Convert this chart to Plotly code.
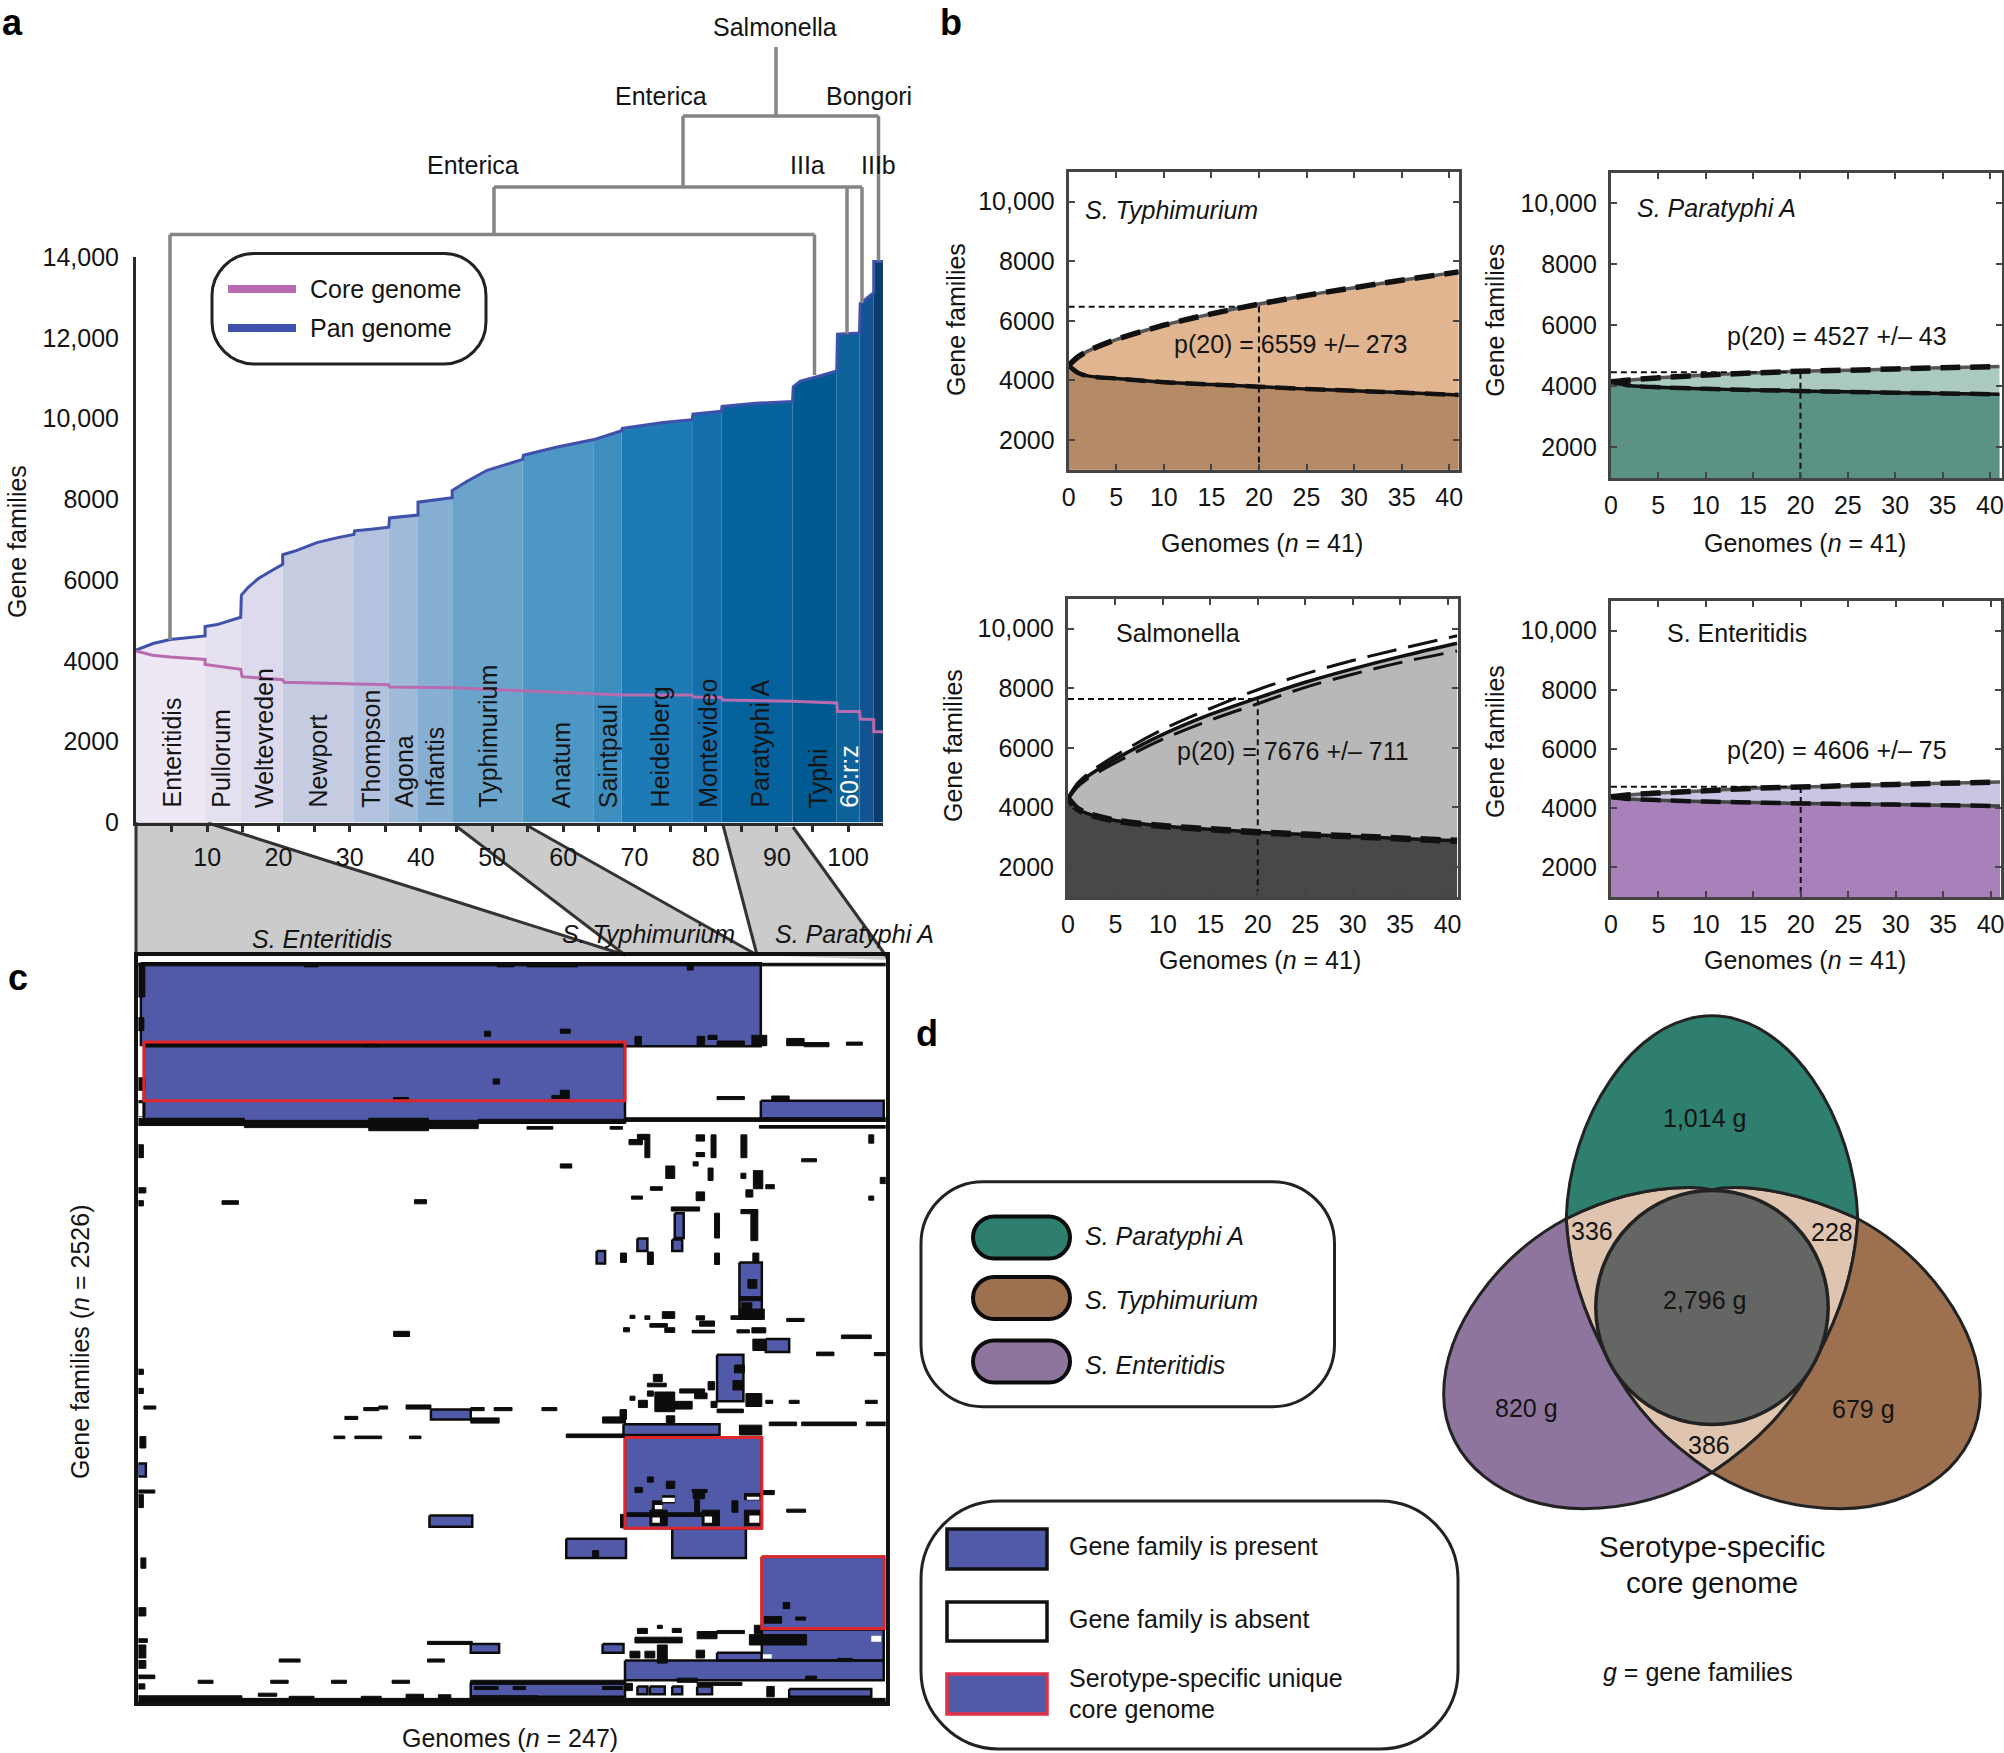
import plotly.graph_objects as go

W, H = 2004, 1753
FONT = "Liberation Sans"
INK = "#141414"

# ---------- panel a data ----------
pan_x = [0, 2.4, 4.8, 9.7, 9.7, 11.4, 14.7, 14.8, 15.8, 17.2, 18.9, 20.6, 20.6, 22.5, 25.4, 28, 30.6, 30.7, 33, 35.5, 35.6, 39.6, 39.6, 44.4, 44.4, 46.5, 49.3, 51.8, 54.3, 54.4, 59, 64.3, 66.3, 68.2, 68.3, 74, 78.1, 78.2, 82.2, 82.3, 87, 92.2, 92.3, 93.3, 95.5, 98.4, 98.5, 101.6, 101.7, 103.6, 103.6, 105]
pan_y = [4270, 4430, 4530, 4620, 4850, 4900, 5080, 5630, 5830, 6040, 6220, 6390, 6630, 6730, 6930, 7040, 7130, 7220, 7260, 7310, 7540, 7610, 7930, 8040, 8220, 8450, 8720, 8860, 8990, 9090, 9290, 9480, 9590, 9700, 9760, 9900, 9970, 10110, 10180, 10300, 10380, 10420, 10790, 10930, 11030, 11180, 12090, 12120, 12850, 13120, 13890, 13890]
core_x = [0, 2.3, 4.8, 9.7, 9.7, 14.7, 14.9, 20.6, 20.8, 30.6, 35.5, 35.6, 44.4, 54.3, 64.3, 68.2, 78.1, 78.3, 82.2, 82.4, 92.2, 98.4, 98.5, 101.6, 101.7, 103.6, 103.6, 105]
core_y = [4247, 4141, 4095, 4035, 3913, 3792, 3610, 3534, 3473, 3428, 3413, 3352, 3337, 3261, 3185, 3155, 3155, 3109, 3094, 3033, 3003, 2958, 2745, 2745, 2563, 2548, 2245, 2245]
sero_edges = [0, 9.7, 14.7, 20.6, 30.6, 35.5, 39.6, 44.4, 54.3, 64.3, 68.2, 78.1, 82.2, 92.2, 98.4, 101.6, 103.6, 105]
sero_colors = ["#EEE8F4", "#E5E1F0", "#DCDAEC", "#C5CBE1", "#B2C2DF", "#A0BBD9", "#87AFD3", "#6BA4CB", "#4D97C4", "#3D8DBF", "#1D7AB5", "#146EAB", "#06629C", "#005A92", "#0D6299", "#13538F", "#0B3C6B"]
sero_names = ["Enteritidis", "Pullorum", "Weltevreden", "Newport", "Thompson", "Agona", "Infantis", "Typhimurium", "Anatum", "Saintpaul", "Heidelberg", "Montevideo", "Paratyphi A", "Typhi", "60:r:z"]
sero_label_x = [5, 12, 18, 25.6, 33, 37.6, 42, 49.5, 59.6, 66.2, 73.6, 80.4, 87.6, 95.7, 100.2]

# ---------- panel b data ----------
curve_x = [0, 1, 2, 5, 10, 15, 20, 25, 30, 35, 41]
typh_pan = [4500, 4790, 4980, 5370, 5850, 6230, 6559, 6850, 7110, 7360, 7640]
typh_core = [4500, 4250, 4150, 4060, 3940, 3860, 3790, 3710, 3650, 3590, 3510]
para_pan = [4150, 4180, 4210, 4280, 4370, 4440, 4495, 4530, 4570, 4610, 4650]
para_core = [4150, 4090, 4030, 3970, 3920, 3880, 3850, 3820, 3790, 3770, 3740]
salm_pan = [4300, 4750, 5030, 5620, 6450, 7120, 7676, 8200, 8650, 9060, 9510]
salm_upper = [4330, 4810, 5110, 5740, 6620, 7320, 7950, 8480, 8930, 9320, 9760]
salm_lower = [4270, 4690, 4950, 5500, 6290, 6930, 7480, 8030, 8470, 8860, 9250]
salm_core = [4300, 3950, 3800, 3560, 3380, 3270, 3170, 3090, 3030, 2960, 2880]
ente_pan = [4380, 4420, 4450, 4510, 4590, 4670, 4710, 4760, 4800, 4840, 4880]
ente_core = [4380, 4340, 4310, 4270, 4220, 4190, 4160, 4140, 4120, 4100, 4070]

# ---------- panel c data: (genome start, end, family start, end) read on the picture's grid ----------
blue_blocks = [(42,1288,45,205),(48,1015,200,352),(1288,1535,310,345),(1115,1133,527,575),(1110,1130,578,600),(1040,1060,576,600),
 (958,975,600,624),(1245,1290,622,730),(1298,1345,770,795),(1200,1253,800,890),(625,705,906,925),(1012,1205,934,955),(35,52,1010,1035),
 (1015,1290,960,1135),(622,708,1110,1132),(897,1017,1155,1192),(1110,1258,1135,1192),(1290,1536,1190,1328),(1290,1535,1330,1390),
 (705,762,1358,1375),(970,1012,1358,1375),(1200,1290,1375,1390),(1015,1535,1390,1428),(705,1015,1432,1460),(1040,1060,1440,1455),
 (1065,1095,1440,1455),(1110,1130,1440,1455),(1160,1190,1440,1455),(1345,1510,1445,1460)]
white_marks = [(1090,1115,1076,1084),(1075,1090,1090,1098),(1260,1285,1074,1080),(1265,1285,1110,1124),(1175,1190,1112,1124),
 (1070,1085,1114,1124),(1510,1530,1342,1354),(1292,1310,1378,1386),(35,48,205,265),(35,45,315,340)]
black_marks = [(33,50,45,110),(33,48,150,175),(33,50,265,290),(33,50,310,340),(370,398,44,52),(758,792,44,52),(818,920,44,52),(1140,1152,46,58),
 (733,745,176,186),(885,905,172,180),(1035,1048,186,202),(1160,1175,186,204),(1182,1200,184,192),(1200,1255,195,204),(1270,1300,184,204),
 (1340,1375,190,204),(1375,1425,198,206),(1460,1492,197,203),(490,520,201,206),(750,763,268,278),(885,903,290,306),(868,885,300,306),
 (550,580,304,310),(1200,1255,302,308),(1310,1345,301,309),
 (25,250,344,358),(250,500,348,362),(500,620,344,368),(620,720,348,364),(720,1015,346,354),(818,870,360,365),(985,1010,360,365),(1015,1540,343,350),(1285,1545,358,363),
 (33,47,395,420),(28,52,478,488),(33,47,503,513),(33,47,828,838),(33,47,865,875),(40,52,958,980),(33,70,1061,1067),(33,47,1070,1095),(42,52,1192,1212),(33,52,1288,1304),(28,55,1348,1355),(35,52,1360,1385),(35,52,1390,1405),(25,70,1418,1425),(33,50,1435,1445),
 (1023,1050,385,395),(1055,1065,375,420),(1040,1055,375,385),(1158,1175,376,388),(1158,1175,410,418),(1188,1198,376,420),(1248,1260,376,420),(1505,1515,376,392),(1370,1400,422,428),(885,908,432,440),(1097,1115,436,460),(1182,1192,440,464),(1152,1162,428,436),(1248,1258,450,460),(1273,1292,445,480),(1298,1315,472,480),(1258,1272,482,496),(1066,1090,476,483),(1028,1050,494,500),(1158,1175,486,503),(1528,1540,458,470),(1505,1515,494,502),(205,238,503,510),(592,616,501,509),
 (1108,1165,515,523),(1248,1282,520,528),(1195,1205,527,575),(1268,1282,528,580),(1006,1018,604,622),(1060,1072,602,626),(1195,1205,604,626),(1272,1284,604,622),
 (1262,1280,655,672),(1245,1290,688,696),(1250,1270,700,712),(1245,1295,712,725),
 (550,582,755,765),(1090,1115,717,730),(1158,1175,725,733),(1165,1195,735,745),(1025,1035,724,730),(1055,1065,725,732),(1065,1100,740,747),(1095,1115,748,757),(1012,1024,748,756),(1150,1195,753,758),(1240,1265,752,758),(1270,1298,748,758),(1340,1375,730,736),(1228,1295,725,732),(1450,1510,762,769),(1272,1298,770,792),(1400,1435,795,802),(1516,1540,796,802),
 (1235,1255,820,835),(1232,1252,850,868),(1072,1090,838,852),(1060,1098,855,862),(1125,1175,866,874),(1155,1180,874,885),(1182,1195,852,868),(1025,1035,880,888),(1042,1060,888,902),(1060,1072,870,880),(1075,1115,872,910),(1115,1150,890,905),(1188,1200,890,902),(1258,1290,875,900),(1298,1312,888,894),(1345,1365,888,894),(1498,1522,888,894),(1200,1253,905,912),
 (48,72,899,905),(490,520,902,908),(520,538,899,905),(575,625,897,905),(705,732,902,908),(752,788,902,908),(848,878,902,908),(452,478,919,925),(705,762,922,932),(970,1016,920,932),(1005,1018,906,925),(1098,1115,918,932),
 (1245,1290,936,955),(1305,1360,930,937),(1370,1480,930,937),(1500,1550,930,937),(430,452,957,962),(472,526,957,962),(582,605,957,962),(897,1015,953,960),
 (1060,1072,1036,1046),(1035,1050,1056,1066),(1098,1115,1044,1058),(1150,1180,1060,1066),(1152,1175,1068,1078),(1155,1165,1080,1105),(1090,1115,1072,1086),(1070,1090,1082,1100),(1230,1242,1082,1104),(1255,1290,1068,1080),(1255,1290,1100,1130),(1018,1200,1105,1112),(1065,1100,1100,1130),(1170,1205,1100,1130),(1290,1315,1062,1070),(1340,1378,1098,1104),(1006,1015,1108,1134),
 (950,962,1178,1190),(1333,1346,1278,1290),(1358,1378,1306,1312),(1295,1330,1305,1318),
 (1040,1060,1328,1338),(1080,1090,1322,1328),(1110,1128,1328,1336),(1160,1200,1334,1348),(1200,1255,1332,1338),(1275,1290,1322,1338),(1035,1130,1345,1356),(1265,1380,1340,1360),(1442,1472,1386,1392),(1025,1045,1372,1385),(1055,1075,1372,1385),(1080,1100,1360,1395),(1158,1175,1370,1385),(618,708,1353,1359),(320,362,1387,1393),(618,652,1387,1393),(157,187,1428,1434),(303,338,1428,1434),(425,455,1428,1434),(547,582,1428,1434),
 (1120,1160,1424,1432),(1378,1400,1420,1426),(705,1015,1428,1436),(712,760,1440,1446),(790,815,1440,1446),(970,1010,1440,1446),(1015,1030,1434,1448),(1160,1250,1432,1438),(1300,1315,1440,1460),
 (33,245,1458,1470),(278,315,1453,1459),(245,1545,1463,1470),(340,390,1459,1465),(485,525,1459,1465),(575,610,1455,1465),(640,665,1456,1465),(705,840,1458,1465)]
red_frames = [(48,1015,197,310),(1015,1290,960,1135),(1290,1536,1190,1328)]

# ---------- panel d data ----------
venn_labels = ["1,014 g", "2,796 g", "820 g", "679 g", "336", "228", "386"]


def P(x, y):
    return x / W, 1 - y / H


fig = go.Figure()
shapes, notes = [], []


def note(x, y, text, size=25, xa="center", ya="middle", angle=0, color=INK):
    px, py = P(x, y)
    notes.append(dict(x=px, y=py, xref="paper", yref="paper", text=text, showarrow=False, xanchor=xa, yanchor=ya,
                      textangle=angle, font=dict(family=FONT, size=size, color=color), borderpad=0, borderwidth=0))


def path(cmds, fill, line, lw, layer="below"):
    shapes.append(dict(type="path", xref="paper", yref="paper", path=cmds, fillcolor=fill,
                       line=dict(color=line, width=lw), layer=layer))


def poly(points, fill, line=None, lw=0):
    s = "M" + " L".join("%.5f,%.5f" % P(*p) for p in points) + " Z"
    path(s, fill, line or "rgba(0,0,0,0)", lw)


def seg(x0, y0, x1, y1, color, lw, layer="below"):
    a, b = P(x0, y0), P(x1, y1)
    shapes.append(dict(type="line", xref="paper", yref="paper", x0=a[0], y0=a[1], x1=b[0], y1=b[1],
                       line=dict(color=color, width=lw), layer=layer))


def curve(items):
    out = []
    for it in items:
        c, vals = it[0], it[1:]
        coords = []
        for i in range(0, len(vals), 2):
            coords.append("%.5f,%.5f" % P(vals[i], vals[i + 1]))
        out.append(c + " ".join(coords))
    return " ".join(out) + " Z"


def rbox(x0, y0, x1, y1, r, fill, line, lw):
    k = 0.45 * r
    pts = [("M", x0 + r, y0), ("L", x1 - r, y0), ("C", x1 - k, y0, x1, y0 + k, x1, y0 + r), ("L", x1, y1 - r),
           ("C", x1, y1 - k, x1 - k, y1, x1 - r, y1), ("L", x0 + r, y1), ("C", x0 + k, y1, x0, y1 - k, x0, y1 - r),
           ("L", x0, y0 + r), ("C", x0, y0 + k, x0 + k, y0, x0 + r, y0)]
    path(curve(pts), fill, line, lw)


def axes(n, box, xr, yr, xopt, yopt):
    x0, y0, x1, y1 = box
    s = "" if n == 1 else str(n)
    fig.layout["xaxis" + s] = dict(domain=[x0 / W, x1 / W], range=xr, anchor="y" + s, fixedrange=True, showgrid=False, zeroline=False, **xopt)
    fig.layout["yaxis" + s] = dict(domain=[1 - y1 / H, 1 - y0 / H], range=yr, anchor="x" + s, fixedrange=True, showgrid=False, zeroline=False, **yopt)


def refs(n):
    s = "" if n == 1 else str(n)
    return dict(xaxis="x" + s, yaxis="y" + s)


tickfont = dict(family=FONT, size=25, color=INK)

# ================= panel a =================
axes(1, (136, 257, 883, 822.5), [0, 104.9], [0, 14000],
     dict(showline=True, linecolor="#2a2a2a", linewidth=3, ticks="outside", ticklen=6, tickwidth=3, tickcolor="#2a2a2a",
          tickvals=list(range(5, 105, 5)), ticktext=[str(v) if v % 10 == 0 else "" for v in range(5, 105, 5)],
          tickfont=tickfont, ticklabelstandoff=4),
     dict(showline=True, linecolor="#2a2a2a", linewidth=3, ticks="", tickvals=[0, 2000, 4000, 6000, 8000, 10000, 12000, 14000],
          ticktext=["0", "2000", "4000", "6000", "8000", "10,000", "12,000", "14,000"], tickfont=tickfont, ticklabelstandoff=9))


def pan_at(x):
    for i in range(len(pan_x) - 1):
        if pan_x[i] <= x <= pan_x[i + 1] and pan_x[i + 1] > pan_x[i]:
            f = (x - pan_x[i]) / (pan_x[i + 1] - pan_x[i])
            return pan_y[i] + f * (pan_y[i + 1] - pan_y[i])
    return pan_y[-1]


for i, col in enumerate(sero_colors):
    a, b = sero_edges[i], sero_edges[i + 1]
    xs = [a] + [x for x in pan_x if a < x < b] + [b]
    ys = [pan_at(a + 1e-6)] + [y for x, y in zip(pan_x, pan_y) if a < x < b] + [pan_at(b - 1e-6)]
    fig.add_trace(go.Scatter(x=xs, y=ys, mode="none", fill="tozeroy", fillcolor=col, hoverinfo="skip", showlegend=False, **refs(1)))
fig.add_trace(go.Scatter(x=pan_x, y=pan_y, mode="lines", line=dict(color="#3F51AB", width=3), showlegend=False, cliponaxis=False, **refs(1)))
fig.add_trace(go.Scatter(x=core_x, y=core_y, mode="lines", line=dict(color="#B96BB0", width=3), showlegend=False, cliponaxis=False, **refs(1)))

for name, x in zip(sero_names, sero_label_x):
    notes.append(dict(x=x, y=340, xref="x", yref="y", text=name, showarrow=False, textangle=-90, xanchor="center", yanchor="bottom",
                      font=dict(family=FONT, size=25, color="white" if name == "60:r:z" else INK), borderpad=0))
note(17, 542, "Gene families", angle=-90)

# dendrogram
GR = "#858585"
for s in [(776, 47, 776, 116), (683, 116, 878.5, 116), (683, 116, 683, 187), (878.5, 116, 878.5, 261), (494, 187, 862, 187),
          (847, 187, 847, 334), (862, 187, 862, 303), (494, 187, 494, 234.5), (170, 234.5, 814.5, 234.5), (170, 234.5, 170, 640),
          (814.5, 234.5, 814.5, 375)]:
    seg(*s, GR, 3.5, layer="above")
note(775, 27, "Salmonella")
note(661, 96, "Enterica")
note(869, 96, "Bongori")
note(473, 165, "Enterica")
note(807, 165, "IIIa")
note(878.5, 165, "IIIb")

# legend a
rbox(212, 253.5, 486, 364, 42, "white", "#222222", 3)
seg(228, 289, 296, 289, "#B96BB0", 8, layer="above")
seg(228, 328, 296, 328, "#3F51AB", 8, layer="above")
note(310, 289, "Core genome", 25, "left")
note(310, 328, "Pan genome", 25, "left")

# connectors between a and c
GP = "#CBCBCB"
DK = "#333333"
poly([(136, 822), (208, 822), (625, 955), (136, 955)], GP)
poly([(456, 825), (528, 825), (757, 955), (625, 955)], GP)
poly([(723, 825), (793, 827), (889, 960), (757, 955)], GP)
for s in [(208, 823, 625, 955), (456, 826, 625, 955), (528, 826, 757, 955), (723, 825, 757, 955), (793, 827, 889, 960), (136, 822, 136, 960)]:
    seg(*s, DK, 3)
note(321.6, 939, "<i>S. Enteritidis</i>")
note(648.5, 934, "<i>S. Typhimurium</i>")
note(854, 934, "<i>S. Paratyphi A</i>")

# ================= panel c =================
axes(2, (138.4, 955.5, 885.7, 1702), [37, 1539], [1470, 30],
     dict(showline=True, linecolor="#111111", linewidth=4, mirror=True, ticks="", showticklabels=False),
     dict(showline=True, linecolor="#111111", linewidth=4, mirror=True, ticks="", showticklabels=False))


def rect_xy(blocks):
    xs, ys = [], []
    for a, b, c, d in blocks:
        xs += [a, b, b, a, a, None]
        ys += [c, c, d, d, c, None]
    return xs, ys


xs, ys = rect_xy(blue_blocks)
fig.add_trace(go.Scatter(x=xs, y=ys, mode="lines", fill="toself", fillcolor="#505AA8", line=dict(color="#0c0c0c", width=2.5), showlegend=False, hoverinfo="skip", **refs(2)))
xs, ys = rect_xy(black_marks)
fig.add_trace(go.Scatter(x=xs, y=ys, mode="lines", fill="toself", fillcolor="#0c0c0c", line=dict(color="#0c0c0c", width=1), showlegend=False, hoverinfo="skip", cliponaxis=False, **refs(2)))
xs, ys = rect_xy(white_marks)
fig.add_trace(go.Scatter(x=xs, y=ys, mode="lines", fill="toself", fillcolor="white", line=dict(color="white", width=0), showlegend=False, hoverinfo="skip", **refs(2)))
xs, ys = rect_xy([(33, 1543, 45, 50)])
fig.add_trace(go.Scatter(x=xs, y=ys, mode="lines", fill="toself", fillcolor="#0c0c0c", line=dict(color="#0c0c0c", width=1), showlegend=False, hoverinfo="skip", **refs(2)))
xs, ys = rect_xy(red_frames)
fig.add_trace(go.Scatter(x=xs, y=ys, mode="lines", line=dict(color="#E0262A", width=3), showlegend=False, hoverinfo="skip", **refs(2)))
note(80, 1342, "Gene families (<i>n</i> = 2526)", angle=-90)
note(510, 1738, "Genomes (<i>n</i> = 247)")

# ================= panel b =================
panels = [
    (3, (1068.7, 171.7, 1458.7, 469.8), 41, typh_pan, typh_core, "#E1B58F", "#B58B67", "#555555", 6470, "p(20) = 6559 +/\u2013 273", 23.4, 5220, "<i>S. Typhimurium</i>", 1.6, 9730),
    (4, (1610.9, 172.8, 2002.3, 477.9), 41.3, para_pan, para_core, "#A9C9C1", "#5B9285", "#555555", 4460, "p(20) = 4527 +/\u2013 43", 23.9, 5636, "<i>S. Paratyphi A</i>", 2.6, 9840),
    (5, (1068, 598.8, 1458, 896.9), 41.1, salm_pan, salm_core, "#B8B8B8", "#484848", "#111111", 7640, "p(20) = 7676 +/\u2013 711", 23.7, 5900, "Salmonella", 5, 9840),
    (6, (1610.9, 601, 2001, 896.9), 41.1, ente_pan, ente_core, "#C9C6E4", "#A880BA", "#555555", 4720, "p(20) = 4606 +/\u2013 75", 23.8, 5950, "S. Enteritidis", 5.8, 9920),
]
for n, box, xmax, pan, core, band, base, ln, hline, ptext, px_, py_, title, tx, ty in panels:
    frame = dict(showline=True, linecolor="#444444", linewidth=3, mirror="ticks", ticks="inside", ticklen=6, tickwidth=2, tickcolor="#444444",
                 tickfont=tickfont, ticklabeloverflow="allow")
    axes(n, box, [0, xmax], [1000, 11000],
         dict(tickvals=[0, 5, 10, 15, 20, 25, 30, 35, 40], ticklabelstandoff=3, **frame),
         dict(tickvals=[2000, 4000, 6000, 8000, 10000], ticktext=["2000", "4000", "6000", "8000", "10,000"], ticklabelstandoff=6, **frame))
    r = refs(n)
    fig.add_trace(go.Scatter(x=curve_x, y=pan, mode="none", fill="tozeroy", fillcolor=band, hoverinfo="skip", showlegend=False, **r))
    fig.add_trace(go.Scatter(x=curve_x, y=core, mode="none", fill="tozeroy", fillcolor=base, hoverinfo="skip", showlegend=False, **r))
    fig.add_trace(go.Scatter(x=curve_x, y=pan, mode="lines", line=dict(color=ln, width=3.5, shape="spline"), showlegend=False, **r))
    fig.add_trace(go.Scatter(x=curve_x, y=core, mode="lines", line=dict(color="#111111" if n != 6 else "#444444", width=3.5, shape="spline"), showlegend=False, **r))
    if n == 5:
        for extra in (salm_upper, salm_lower):
            fig.add_trace(go.Scatter(x=curve_x, y=extra, mode="lines", line=dict(color="#111111", width=3, dash="30px,12px", shape="spline"), showlegend=False, **r))
    else:
        fig.add_trace(go.Scatter(x=curve_x, y=pan, mode="lines", line=dict(color="#111111", width=5.5, dash="20px,10px", shape="spline"), showlegend=False, **r))
    fig.add_trace(go.Scatter(x=curve_x, y=core, mode="lines", line=dict(color="#111111", width=6.5 if n == 5 else 4.5, dash="20px,10px", shape="spline"), showlegend=False, **r))
    fig.add_trace(go.Scatter(x=[0, 20, 20], y=[hline, hline, 1000], mode="lines", line=dict(color="#111111", width=2, dash="6px,4px"), showlegend=False, **r))
    for txt, xv, yv, anchor in ((ptext, px_, py_, "center"), (title, tx, ty, "left")):
        notes.append(dict(x=xv, y=yv, xref=r["xaxis"], yref=r["yaxis"], text=txt, showarrow=False, xanchor=anchor, yanchor="middle",
                          font=dict(family=FONT, size=25, color=INK), borderpad=0))

for x, y in [(956, 320), (1495, 320.7), (953, 746), (1495, 742)]:
    note(x, y, "Gene families", angle=-90)
for x, y in [(1261.6, 543.5), (1804.5, 543.5), (1259.6, 960), (1804.5, 960)]:
    note(x, y, "Genomes (<i>n</i> = 41)")

# ================= panel d =================
rbox(921, 1181.7, 1334.5, 1406.7, 62, "white", "#222222", 3)
for y, col, name, ty in [(1237.5, "#2F7F6F", "S. Paratyphi A", 1235.6), (1298, "#9D7050", "S. Typhimurium", 1300), (1361.5, "#8E759D", "S. Enteritidis", 1365)]:
    rbox(973, y - 21, 1070, y + 21, 21, col, "#0c0c0c", 4)
    note(1084.5, ty, "<i>%s</i>" % name, 25, "left")

rbox(921, 1501, 1458, 1749, 78, "white", "#222222", 3)
for y0, y1, fill, line in [(1529, 1569, "#505AA8", "#111111"), (1602, 1641, "white", "#111111"), (1674, 1714, "#505AA8", "#E0304A")]:
    poly([(947, y0), (1047, y0), (1047, y1), (947, y1)], fill, line, 3.5)
note(1069, 1546, "Gene family is present", 25, "left")
note(1069, 1619, "Gene family is absent", 25, "left")
note(1069, 1678, "Serotype-specific unique", 25, "left")
note(1069, 1709, "core genome", 25, "left")


def Z(x, y):
    return x / 1.42 + 900, y / 2.08 + 1000


def vpath(items, fill):
    conv = []
    for it in items:
        vals = []
        for i in range(1, len(it), 2):
            vals += list(Z(it[i], it[i + 1]))
        conv.append((it[0], *vals))
    path(curve(conv), fill, "#222222", 3, layer="above")


purple = [("M", 946, 455), ("C", 850, 530, 772, 680, 772, 820), ("C", 772, 960, 860, 1058, 970, 1058), ("C", 1040, 1058, 1100, 1030, 1153, 983),
          ("C", 1090, 920, 1040, 850, 1005, 745), ("C", 970, 650, 950, 560, 946, 455)]
brown = [("M", 1360, 455), ("C", 1456, 530, 1534, 680, 1534, 820), ("C", 1534, 960, 1446, 1058, 1336, 1058), ("C", 1266, 1058, 1206, 1030, 1153, 983),
         ("C", 1216, 920, 1266, 850, 1301, 745), ("C", 1336, 650, 1356, 560, 1360, 455)]
green = [("M", 946, 455), ("C", 950, 250, 1040, 33, 1153, 33), ("C", 1265, 33, 1356, 250, 1360, 455), ("C", 1300, 415, 1240, 390, 1185, 390),
         ("C", 1170, 390, 1160, 392, 1153, 395), ("C", 1145, 392, 1135, 390, 1120, 390), ("C", 1060, 390, 1000, 415, 946, 455)]
beige = [("M", 946, 455), ("C", 1000, 415, 1060, 390, 1120, 390), ("C", 1135, 390, 1145, 392, 1153, 395), ("C", 1160, 392, 1170, 390, 1185, 390),
         ("C", 1240, 390, 1300, 415, 1360, 455), ("C", 1356, 560, 1336, 650, 1301, 745), ("C", 1266, 850, 1216, 920, 1153, 983),
         ("C", 1090, 920, 1040, 850, 1005, 745), ("C", 970, 650, 950, 560, 946, 455)]
vpath(beige, "#DFC5AF")
vpath(purple, "#8E759D")
vpath(brown, "#9D7050")
vpath(green, "#2F7F6F")
cx0, cy0 = Z(988, 396)
cx1, cy1 = Z(1318, 883)
a0, a1 = P(cx0, cy0), P(cx1, cy1)
shapes.append(dict(type="circle", xref="paper", yref="paper", x0=a0[0], x1=a1[0], y0=a0[1], y1=a1[1], fillcolor="#646664", line=dict(color="#222222", width=3.5), layer="above"))

for lab, (zx, zy) in zip(venn_labels, [(1143, 245), (1143, 625), (890, 848), (1368, 850), (982, 480), (1323, 483), (1149, 925)]):
    note(*Z(zx, zy), lab, 25)
note(1712, 1546, "Serotype-specific", 29.5)
note(1712, 1582, "core genome", 29.5)
note(*Z(998, 1398), "<i>g</i> = gene families", 25, "left")

# panel letters
for ch, x, y in [("a", 12, 23), ("b", 951, 23), ("c", 18, 978), ("d", 927, 1033)]:
    note(x, y, "<b>%s</b>" % ch, 36, color="#000000")

fig.update_layout(width=W, height=H, margin=dict(l=0, r=0, t=0, b=0, autoexpand=False), paper_bgcolor="white", plot_bgcolor="rgba(0,0,0,0)",
                  shapes=shapes, annotations=notes, showlegend=False, font=dict(family=FONT, color=INK))
fig.write_html("out.html", config=dict(displayModeBar=False), post_script="document.body.style.margin='0';document.body.style.overflow='hidden';")
